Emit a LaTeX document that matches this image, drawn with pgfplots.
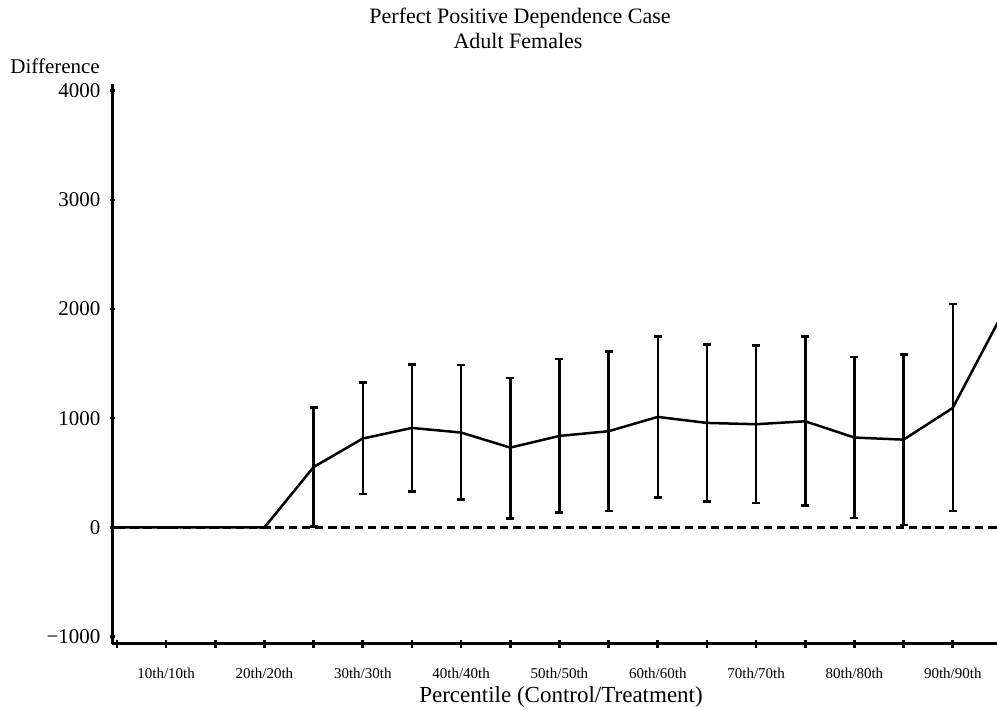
\documentclass[border=0pt]{standalone}
\usepackage{pgfplots}
\pgfplotsset{compat=1.18}
\usepackage{pgfplotstable}
\usepackage{fontspec}
\setmainfont{Liberation Serif}
\pgfplotstableread{
p diff ep em
5 0 0 0
10 0 0 0
15 0 0 0
20 0 0 0
25 553 545 544
30 814 513 508
35 911 582 581
40 869 620 612
45 731 639 651
50 838 703 703
55 881 731 731
60 1012 734 737
65 957 719 721
70 945 719 719
75 972 774 770
80 823 737 738
85 804 780 780
90 1094 952 944
}\diffdata
\pgfplotsset{base/.style={
  scale only axis,
  width=442.5pt, height=280pt,
  xmin=4.5, xmax=94.5,
  ymin=-1067, ymax=4060,
  tick align=outside}}
\begin{document}
\begin{tikzpicture}
\begin{axis}[base,
  axis x line=bottom, hide y axis,
  axis line style={-, line width=1.5pt},
  xtick={10,20,...,90},
  xticklabels={10th/10th,20th/20th,30th/30th,40th/40th,50th/50th,60th/60th,70th/70th,80th/80th,90th/90th},
  minor xtick={5,15,...,85},
  major tick length=4pt, minor tick length=4pt,
  x tick style={line width=1.3pt, black},
  xticklabel style={font=\fontsize{7.5}{9}\selectfont, yshift=-6.5pt},
]
\coordinate (ll) at (rel axis cs:0,0);
\coordinate (ul) at (rel axis cs:0,1);
\coordinate (ur) at (rel axis cs:1,1);
\end{axis}
\begin{axis}[base,
  axis y line=left, hide x axis,
  axis line style={-, line width=1.5pt},
  ytick={-1000,0,1000,2000,3000,4000},
  yticklabels={−1000,0,1000,2000,3000,4000},
  minor ytick={-500,500,1500,2500,3500},
  major tick length=2.5pt, minor tick length=1pt,
  y tick style={line width=1.2pt, black},
  yticklabel style={font=\fontsize{10.5}{12}\selectfont, xshift=-1pt},
  clip=true,
]
\addplot[black, line width=1.1pt, dash pattern=on 4.2pt off 2.4pt] coordinates {(5,0) (95,0)};
\addplot[black, line width=1.25pt, mark=none,
  error bars/.cd, y dir=both, y explicit,
  error bar style={line width=1.25pt, black},
  error mark options={rotate=90, mark size=2pt, line width=1.25pt, black}]
  table[x=p, y=diff, y error plus=ep, y error minus=em] {\diffdata};
\addplot[black, line width=1.25pt, mark=none] coordinates {(90,1094) (95,1948)};
\end{axis}
\node[anchor=base] at ([xshift=204pt,yshift=30pt]ul) {\fontsize{11}{13}\selectfont Perfect Positive Dependence Case};
\node[anchor=base] at ([xshift=203pt,yshift=17.5pt]ul) {\fontsize{11}{13}\selectfont Adult Females};
\node[anchor=base west, inner sep=0pt] at ([xshift=-51pt,yshift=5pt]ul) {\fontsize{10.5}{12}\selectfont Difference};
\node[anchor=base] at ([xshift=224.5pt,yshift=-29pt]ll) {\fontsize{11.5}{13}\selectfont Percentile (Control/Treatment)};
\pgfresetboundingbox
\path[use as bounding box] ([xshift=-56pt,yshift=-32.85pt]ll) rectangle ([yshift=42pt]ur);
\end{tikzpicture}
\end{document}
